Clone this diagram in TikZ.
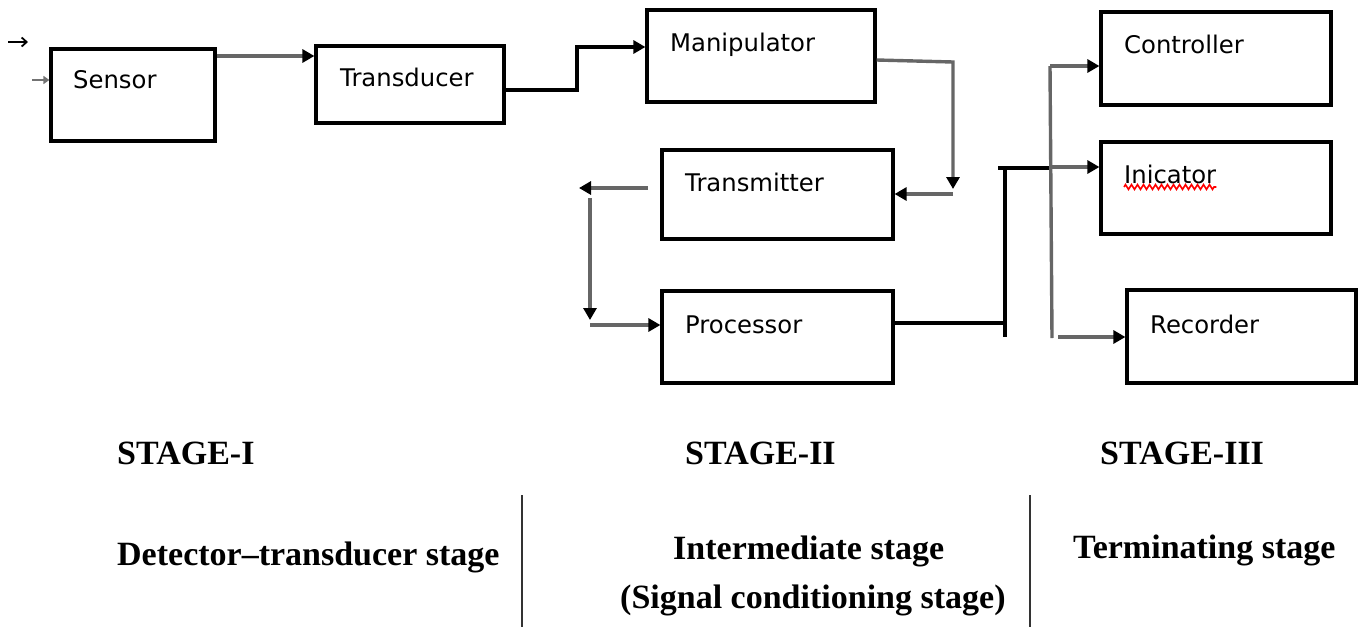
\documentclass[tikz,border=0pt]{standalone}
\usepackage{fontspec}
\setmainfont{Liberation Serif}
\newfontfamily\boxfont{DejaVu Sans}
\usetikzlibrary{arrows.meta,decorations.pathmorphing}
\begin{document}
\begin{tikzpicture}[x=1pt,y=-1pt,
  blk/.style={draw=black,line width=3.2pt,minimum width=#1,inner sep=0pt},
  lbl/.style={anchor=base west,inner sep=0pt,font=\boxfont\fontsize{24.3}{27}\selectfont},
  stg/.style={anchor=base west,inner sep=0pt,font=\bfseries\fontsize{34}{37}\selectfont},
  conn/.style={draw=black!60,line width=3.4pt},
  plain/.style={draw=black,line width=3.2pt},
  tip/.style={-{Triangle[length=12pt,width=13pt,color=black]}},
]
\useasboundingbox (0,0) rectangle (1358,627);
% boxes
\node[blk=164pt,minimum height=92pt] (sensor) at (133,95) {};
\node[blk=188pt,minimum height=77pt] (transd) at (410,84.5) {};
\node[blk=228pt,minimum height=92pt] (manip) at (761,56) {};
\node[blk=231pt,minimum height=89pt] (transm) at (777.5,194.5) {};
\node[blk=231pt,minimum height=92pt] (proc) at (777.5,337) {};
\node[blk=230pt,minimum height=93pt] (contr) at (1216,58.5) {};
\node[blk=230pt,minimum height=92pt] (indic) at (1216,188) {};
\node[blk=229pt,minimum height=93pt] (recor) at (1241.5,336.5) {};
% labels
\node[lbl] (tsensor) at (73,88) {Sensor};
\node[lbl] (ttransd) at (340,86) {Transducer};
\node[lbl] (tmanip) at (670,51) {Manipulator};
\node[lbl] (ttransm) at (685,191) {Transmitter};
\node[lbl] (tproc) at (685,333) {Processor};
\node[lbl] (tcontr) at (1124,53) {Controller};
\node[lbl] (tindic) at (1124,183) {Inicator};
\node[lbl] (trecor) at (1150,333) {Recorder};
\draw[red,line width=1.6pt,decorate,decoration={zigzag,segment length=6pt,amplitude=2.4pt}]
  ([yshift=-4pt]tindic.base west) -- ([yshift=-4pt]tindic.base east);
% input arrows
\coordinate (in1a) at (8,42); \coordinate (in1b) at (28,42);
\draw[black,line width=1.8pt,-{Straight Barb[length=5pt,width=9pt]}] (in1a) -- (in1b);
\coordinate (in2a) at (32,80);
\draw[draw=black!55,line width=2.4pt,-{Triangle[length=6pt,width=8pt]}] (in2a) -- (in2a -| sensor.west);
% sensor -> transducer
\draw[conn,tip] (sensor.east |- 0,56) -- (transd.west |- 0,56);
% transducer -> manipulator
\draw[plain,tip] (transd.east |- 0,90) -- (577,90) -- (577,47) -- (manip.west |- 0,47);
% manipulator -> transmitter
\coordinate (mt1) at (953,62);
\coordinate (mt2) at (953,194);
\draw[conn,tip] (manip.east |- 0,60) -- (mt1) -- (953,189);
\draw[conn,tip] (mt2) -- (transm.east |- mt2);
% transmitter -> processor
\coordinate (tp1) at (590,188);
\coordinate (tp2) at (590,325);
\draw[conn,tip] (648,188) -- (579,188);
\draw[conn,tip] (590,198) -- (590,320);
\draw[conn,tip] (tp2) -- (proc.west |- tp2);
% processor -> stage III
\coordinate (j1) at (1005,323);
\coordinate (j2) at (1005,168);
\draw[plain] (proc.east |- j1) -- (j1);
\draw[plain] (j2) -- (1005,337);
\draw[plain] (998,168) -- (1050,168);
\coordinate (bt) at (1050,66);
\coordinate (bb) at (1052,338);
\draw[conn] (bt) -- (bb);
\draw[conn,tip] (bt) -- (contr.west |- bt);
\draw[conn,tip] (1050,167) -- (indic.west |- 0,167);
\draw[conn,tip] (1058,337) -- (recor.west |- 0,337);
% stage texts
\node[stg] (s1) at (117,464) {STAGE-I};
\node[stg] (s2) at (685,464) {STAGE-II};
\node[stg] (s3) at (1100,464) {STAGE-III};
\node[stg] (d1) at (117,565) {Detector--transducer stage};
\node[stg] (d2) at (673,559) {Intermediate stage};
\node[stg] (d2b) at (620,608) {(Signal conditioning stage)};
\node[stg] (d3) at (1073,558) {Terminating stage};
\coordinate (sep1a) at (522,495); \coordinate (sep1b) at (522,627);
\coordinate (sep2a) at (1030,495); \coordinate (sep2b) at (1030,627);
\draw[black!80,line width=2.4pt] (sep1a) -- (sep1b);
\draw[black!80,line width=2.4pt] (sep2a) -- (sep2b);
\end{tikzpicture}
\end{document}
